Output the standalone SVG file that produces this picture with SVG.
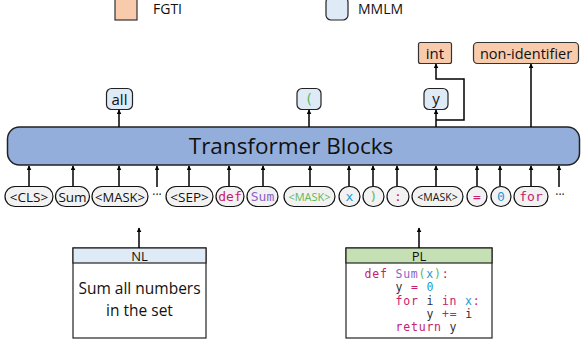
<svg xmlns="http://www.w3.org/2000/svg" width="581" height="347" viewBox="0 0 581 347">
<defs>
<marker id="ah" viewBox="0 0 8 8" refX="7" refY="4" markerWidth="5" markerHeight="5" orient="auto" markerUnits="userSpaceOnUse">
<path d="M0,0 L8,4 L0,8 z" fill="#000"/>
</marker>
<style>
.t{font-family:"Open Sans","Noto Sans","DejaVu Sans",sans-serif;fill:#111;}
.m{font-family:"DejaVu Sans Mono","Liberation Mono",monospace;}
.pill{fill:#f2f2f2;stroke:#111;stroke-width:1.2;}
.mm{fill:#deeaf6;stroke:#222;stroke-width:1.2;}
.fg{fill:#f8cbad;stroke:#333;stroke-width:1.2;}
.a{stroke:#000;stroke-width:1.5;fill:none;marker-end:url(#ah);}
.kw{fill:#c7206e;}
.fn{fill:#8c63c6;}
.pa{fill:#5cb85c;}
.va{fill:#1c9ad6;}
.id{fill:#333;}
</style>
</defs>

<g id="legend">
<rect x="115" y="-3" width="22" height="23" class="fg"/>
<text x="153" y="14" class="t" font-size="14">FGTI</text>
<rect x="326" y="-3" width="22" height="23" rx="5" class="mm"/>
<text x="358" y="14" class="t" font-size="14">MMLM</text>
</g>

<g id="transformer">
<rect x="7.5" y="127" width="572" height="38" rx="12" fill="#94aedb" stroke="#222" stroke-width="1.5"/>
<text x="291" y="154" class="t" font-size="22.5" text-anchor="middle">Transformer Blocks</text>
</g>

<g id="out-all"><rect x="106.5" y="88.5" width="26" height="21" rx="5" class="mm"/><text x="119.5" y="104.5" class="t" font-size="15" text-anchor="middle">all</text></g>
<g id="out-paren"><rect x="297" y="88.5" width="24" height="21" rx="5" class="mm"/><text x="309" y="104" class="m pa" font-size="14" text-anchor="middle">(</text></g>
<g id="out-y"><rect x="424" y="88.5" width="24" height="21" rx="5" class="mm"/><text x="436" y="103.5" class="t" font-size="15" text-anchor="middle">y</text></g>
<g id="out-int"><rect x="418.5" y="42.5" width="33" height="21" rx="2" class="fg"/><text x="435" y="58.5" class="t" font-size="15" text-anchor="middle">int</text></g>
<g id="out-nonid"><rect x="473.5" y="42.5" width="105" height="21" rx="4" class="fg"/><text x="526" y="58.5" class="t" font-size="14.5" text-anchor="middle">non-identifier</text></g>

<g id="tokens">
<g id="tok-cls"><rect x="5" y="186.5" width="48" height="20" rx="10" class="pill"/><text x="29" y="201.5" class="t" font-size="13.5" text-anchor="middle">&lt;CLS&gt;</text></g>
<g id="tok-sum"><rect x="55.5" y="186.5" width="34" height="20" rx="10" class="pill"/><text x="72.5" y="201.5" class="t" font-size="13.5" text-anchor="middle">Sum</text></g>
<g id="tok-mask1"><rect x="92" y="186.5" width="56" height="20" rx="10" class="pill"/><text x="120" y="201.5" class="t" font-size="13" text-anchor="middle">&lt;MASK&gt;</text></g>
<g id="tok-dots1"><text x="157" y="199" class="t" font-size="12" text-anchor="middle">···</text></g>
<g id="tok-sep"><rect x="166" y="186.5" width="47" height="20" rx="10" class="pill"/><text x="189.5" y="201.5" class="t" font-size="13.5" text-anchor="middle">&lt;SEP&gt;</text></g>
<g id="tok-def"><rect x="216" y="186.5" width="28" height="20" rx="10" class="pill"/><text x="230" y="200.5" class="m kw" font-size="13" text-anchor="middle">def</text></g>
<g id="tok-sum2"><rect x="247" y="186.5" width="31" height="20" rx="10" class="pill"/><text x="262.5" y="200.5" class="m fn" font-size="13" text-anchor="middle">Sum</text></g>
<g id="tok-mask2"><rect x="284" y="186.5" width="51" height="20" rx="10" class="pill"/><text x="309.5" y="200.5" class="t pa" font-size="11" text-anchor="middle">&lt;MASK&gt;</text></g>
<g id="tok-x"><rect x="339" y="186.5" width="21" height="20" rx="10" class="pill"/><text x="349.5" y="200.5" class="m va" font-size="13" text-anchor="middle">x</text></g>
<g id="tok-rparen"><rect x="363" y="186.5" width="21" height="20" rx="10" class="pill"/><text x="373.5" y="200.5" class="m pa" font-size="13" text-anchor="middle">)</text></g>
<g id="tok-colon"><rect x="387" y="186.5" width="22" height="20" rx="10" class="pill"/><text x="398" y="200.5" class="m kw" font-size="13" text-anchor="middle">:</text></g>
<g id="tok-mask3"><rect x="412" y="186.5" width="51" height="20" rx="10" class="pill"/><text x="437.5" y="200.5" class="t" font-size="10.5" text-anchor="middle">&lt;MASK&gt;</text></g>
<g id="tok-eq"><rect x="467" y="186.5" width="20" height="20" rx="10" class="pill"/><text x="477" y="200.5" class="m kw" font-size="13" text-anchor="middle">=</text></g>
<g id="tok-zero"><rect x="491" y="186.5" width="20" height="20" rx="10" class="pill"/><text x="501" y="200.5" class="m va" font-size="13" text-anchor="middle">0</text></g>
<g id="tok-for"><rect x="514" y="186.5" width="34" height="20" rx="10" class="pill"/><text x="531" y="200.5" class="m kw" font-size="13" text-anchor="middle">for</text></g>
<g id="tok-dots2"><text x="560" y="199" class="t" font-size="12" text-anchor="middle">···</text></g>
</g>

<g id="nl-box">
<rect x="73" y="248" width="133" height="90" fill="#fff" stroke="#222" stroke-width="1.2"/>
<rect x="73" y="248" width="133" height="15" fill="#deeaf6" stroke="#222" stroke-width="1.2"/>
<text x="139.5" y="260.5" class="t" font-size="13" text-anchor="middle">NL</text>
<text x="139.5" y="294" class="t" font-size="15.5" text-anchor="middle">Sum all numbers</text>
<text x="139.5" y="316" class="t" font-size="15.5" text-anchor="middle">in the set</text>
</g>

<g id="pl-box">
<rect x="346" y="248" width="146" height="90" fill="#fff" stroke="#222" stroke-width="1.2"/>
<rect x="346" y="248" width="146" height="15" fill="#c5e0b4" stroke="#222" stroke-width="1.2"/>
<text x="419" y="260.5" class="t" font-size="13" text-anchor="middle">PL</text>
<g class="m" font-size="11.5" letter-spacing="0.8" xml:space="preserve">
<text x="364.5" y="278"><tspan class="kw">def</tspan> <tspan class="fn">Sum</tspan><tspan class="pa">(</tspan><tspan class="va">x</tspan><tspan class="pa">)</tspan><tspan class="kw">:</tspan></text>
<text x="395.5" y="291.3"><tspan class="id">y</tspan> <tspan class="kw">=</tspan> <tspan class="va">0</tspan></text>
<text x="395.5" y="304.6"><tspan class="kw">for</tspan> <tspan class="id">i</tspan> <tspan class="kw">in</tspan> <tspan class="va">x</tspan><tspan class="kw">:</tspan></text>
<text x="426.5" y="317.9"><tspan class="id">y</tspan> <tspan class="kw">+=</tspan> <tspan class="id">i</tspan></text>
<text x="395.5" y="331.2"><tspan class="kw">return</tspan> <tspan class="id">y</tspan></text>
</g>
</g>

<g id="connectors">
<line x1="29" y1="186" x2="29" y2="166" class="a"/>
<line x1="73" y1="186" x2="73" y2="166" class="a"/>
<line x1="119" y1="186" x2="119" y2="166" class="a"/>
<line x1="157" y1="187" x2="157" y2="166" class="a"/>
<line x1="189" y1="186" x2="189" y2="166" class="a"/>
<line x1="229" y1="186" x2="229" y2="166" class="a"/>
<line x1="263" y1="186" x2="263" y2="166" class="a"/>
<line x1="310" y1="186" x2="310" y2="166" class="a"/>
<line x1="349" y1="186" x2="349" y2="166" class="a"/>
<line x1="373" y1="186" x2="373" y2="166" class="a"/>
<line x1="397" y1="186" x2="397" y2="166" class="a"/>
<line x1="436" y1="186" x2="436" y2="166" class="a"/>
<line x1="477" y1="186" x2="477" y2="166" class="a"/>
<line x1="500" y1="186" x2="500" y2="166" class="a"/>
<line x1="531" y1="186" x2="531" y2="166" class="a"/>
<line x1="559" y1="187" x2="559" y2="166" class="a"/>
<line x1="139" y1="248" x2="139" y2="228" class="a"/>
<line x1="419" y1="248" x2="419" y2="228" class="a"/>
<line x1="119" y1="127" x2="119" y2="110" class="a"/>
<line x1="309" y1="127" x2="309" y2="110" class="a"/>
<line x1="436" y1="127" x2="436" y2="110" class="a"/>
<polyline points="436,120 464,120 464,79 436,79 436,64" class="a"/>
<line x1="531" y1="127" x2="531" y2="64" class="a"/>
</g>
</svg>
